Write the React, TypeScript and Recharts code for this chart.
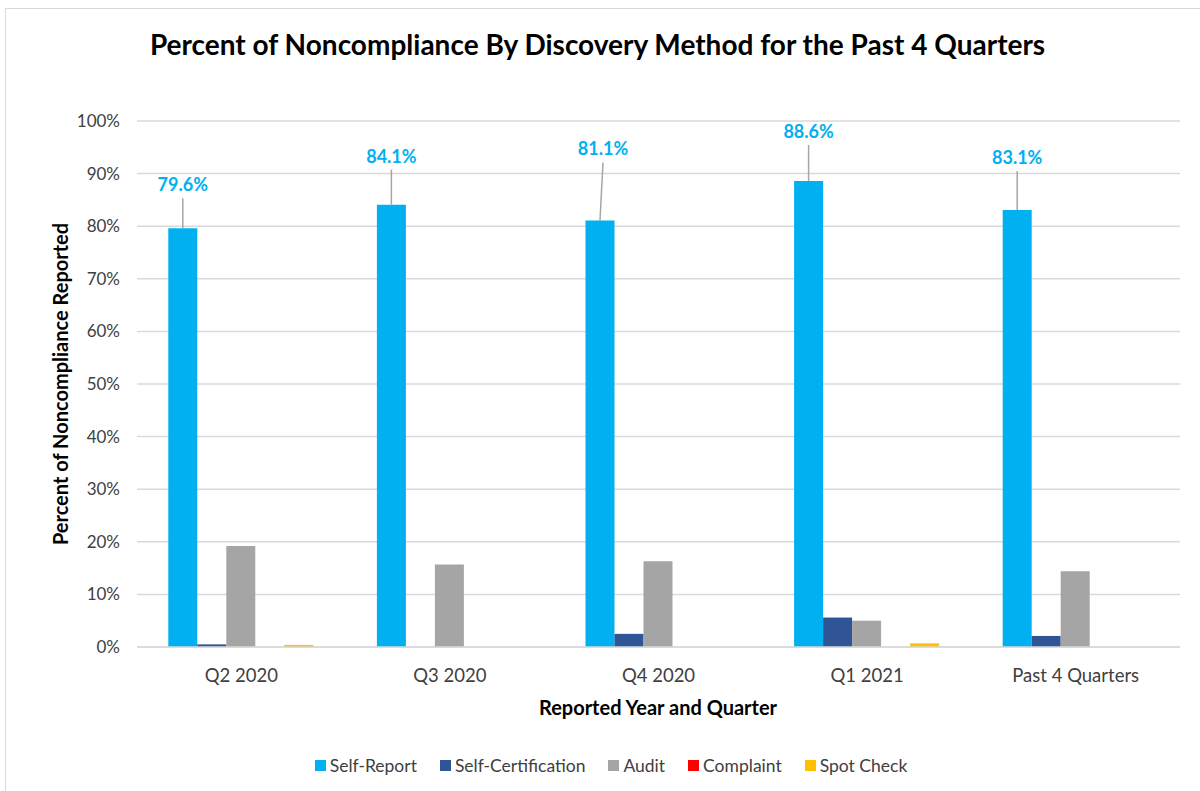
import { BarChart, Bar, XAxis, YAxis, CartesianGrid, Legend, LabelList } from 'recharts';

// Categories and series (percent of noncompliance by discovery method)
const CATEGORIES = ['Q2 2020', 'Q3 2020', 'Q4 2020', 'Q1 2021', 'Past 4 Quarters'];
const SELF_REPORT = [79.6, 84.1, 81.1, 88.6, 83.1];
const SELF_CERTIFICATION = [0.5, 0, 2.5, 5.6, 2.1];
const AUDIT = [19.2, 15.7, 16.3, 5.0, 14.4];
const COMPLAINT = [0, 0, 0, 0, 0];
const SPOT_CHECK = [0.4, 0, 0, 0.7, 0];
const Y_TICKS = [0, 10, 20, 30, 40, 50, 60, 70, 80, 90, 100];

// how far each Self-Report label sits above its bar (px), and a small sideways nudge
const LABEL_LIFT = [44, 49, 72, 50, 53];
const LABEL_SHIFT = [0, 0, 3, 0, 0];

const SERIES = [
    { key: 'selfReport', name: 'Self-Report', color: '#00B0F0' },
    { key: 'selfCert', name: 'Self-Certification', color: '#2F5597' },
    { key: 'audit', name: 'Audit', color: '#A5A5A5' },
    { key: 'complaint', name: 'Complaint', color: '#FF0000' },
    { key: 'spotCheck', name: 'Spot Check', color: '#FFC000' },
];

const data = CATEGORIES.map((name, i) => ({
    name,
    selfReport: SELF_REPORT[i],
    selfCert: SELF_CERTIFICATION[i],
    audit: AUDIT[i],
    complaint: COMPLAINT[i],
    spotCheck: SPOT_CHECK[i],
}));

const FONT = 'Lato, "Open Sans", sans-serif';
const TEXT = '#404040';

// data label with a leader line down to the bar top
function LeaderLabel(props: any) {
    const { x, y, width, value, index } = props;
    const cx = Number(x) + Number(width) / 2;
    const top = Number(y);
    const lift = LABEL_LIFT[index] ?? 40;
    const lx = cx + (LABEL_SHIFT[index] ?? 0);
    const ly = top - lift;
    return (
        <g>
            <line x1={lx} y1={ly + 14} x2={cx} y2={top} stroke="#A6A6A6" strokeWidth={1.5} />
            <text
                x={lx}
                y={ly}
                textAnchor="middle"
                dominantBaseline="central"
                fill="#00B0F0"
                fontFamily={FONT}
                fontWeight={700}
                fontSize={18}
            >
                {`${Number(value).toFixed(1)}%`}
            </text>
        </g>
    );
}

function LegendContent() {
    return (
        <div style={{ display: 'flex', justifyContent: 'center', gap: 23, fontFamily: FONT, fontSize: 17.5, color: TEXT }}>
            {SERIES.map((s) => (
                <div key={s.key} style={{ display: 'flex', alignItems: 'center' }}>
                    <span style={{ width: 11, height: 11, background: s.color, display: 'inline-block', marginRight: 4 }} />
                    <span>{s.name}</span>
                </div>
            ))}
        </div>
    );
}

export default function App() {
    return (
        <div style={{ position: 'fixed', left: 0, top: 0, width: 1200, height: 791, background: '#fff', overflow: 'hidden' }}>
            <div style={{ position: 'absolute', left: 5, top: 8, width: 1220, height: 820, border: '1.5px solid #D9D9D9' }} />
            <div
                style={{
                    position: 'absolute',
                    left: 0,
                    top: 27,
                    width: 1195,
                    textAlign: 'center',
                    fontFamily: FONT,
                    fontWeight: 700,
                    fontSize: 28,
                    color: '#000',
                }}
            >
                Percent of Noncompliance By Discovery Method for the Past 4 Quarters
            </div>
            <div
                style={{
                    position: 'absolute',
                    left: 60,
                    top: 384,
                    transform: 'translate(-50%, -50%) rotate(-90deg)',
                    whiteSpace: 'nowrap',
                    fontFamily: FONT,
                    fontWeight: 700,
                    fontSize: 20,
                    color: '#000',
                }}
            >
                Percent of Noncompliance Reported
            </div>
            <div
                style={{
                    position: 'absolute',
                    left: 458,
                    top: 695,
                    width: 400,
                    textAlign: 'center',
                    fontFamily: FONT,
                    fontWeight: 700,
                    fontSize: 20,
                    color: '#000',
                }}
            >
                Reported Year and Quarter
            </div>
            <div style={{ position: 'absolute', left: 0, top: 0 }}>
                <BarChart
                    width={1200}
                    height={791}
                    data={data}
                    margin={{ top: 121, right: 20, bottom: 114, left: 77 }}
                    barCategoryGap="15%"
                    barGap={0}
                >
                    <CartesianGrid vertical={false} stroke="#D9D9D9" strokeWidth={1.5} />
                    <XAxis
                        dataKey="name"
                        height={30}
                        tickLine={false}
                        axisLine={{ stroke: '#D9D9D9', strokeWidth: 1.5 }}
                        tick={{ fill: TEXT, fontSize: 18.5, fontFamily: FONT }}
                        tickMargin={16}
                    />
                    <YAxis
                        width={60}
                        domain={[0, 100]}
                        ticks={Y_TICKS}
                        interval={0}
                        tickFormatter={(v: number) => `${v}%`}
                        axisLine={false}
                        tickLine={false}
                        tickMargin={11}
                        tick={{ fill: TEXT, fontSize: 17, fontFamily: FONT }}
                    />
                    <Legend
                        layout="horizontal"
                        verticalAlign="middle"
                        align="center"
                        wrapperStyle={{ top: 755, left: 0, width: 1222 }}
                        content={LegendContent}
                    />
                    {SERIES.map((s) => (
                        <Bar key={s.key} dataKey={s.key} name={s.name} fill={s.color} isAnimationActive={false}>
                            {s.key === 'selfReport' && (
                                <LabelList dataKey="selfReport" content={<LeaderLabel />} />
                            )}
                        </Bar>
                    ))}
                </BarChart>
            </div>
        </div>
    );
}
